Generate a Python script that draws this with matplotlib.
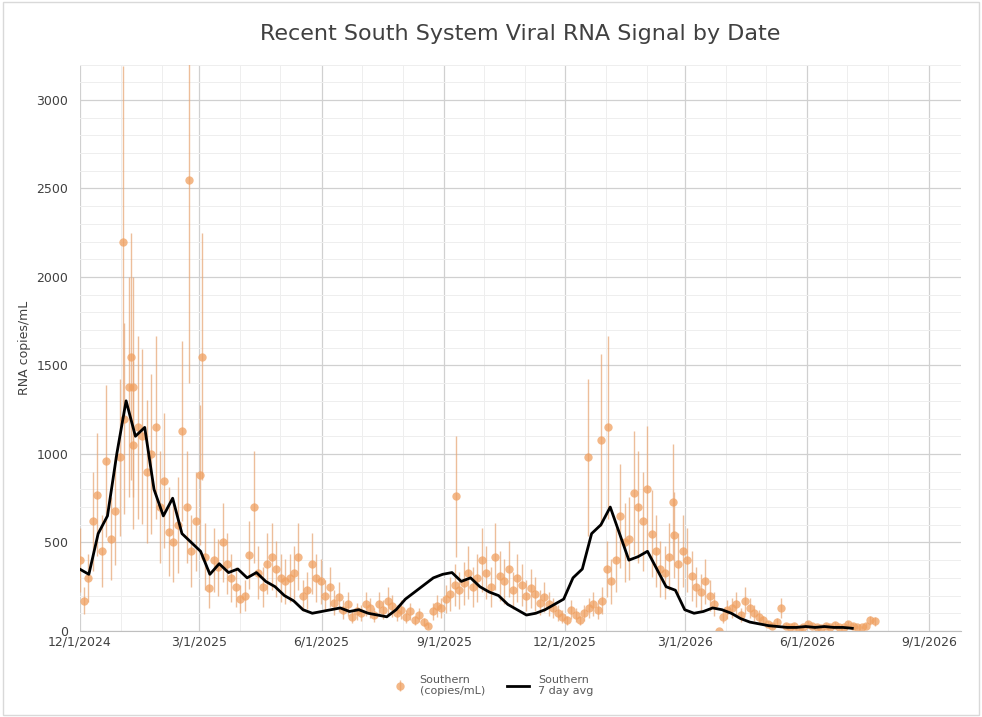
import numpy as np
import pandas as pd
import matplotlib.pyplot as plt
import matplotlib.dates as mdates

# 7-day average, weekly readings starting 12/1/2024
avg_start = "2024-12-01"
avg_vals = [350, 320, 550, 650, 1000, 1300, 1100, 1150, 800, 650, 750, 550, 500,
            450, 320, 380, 330, 350, 300, 330, 280, 250, 200, 170, 120, 100,
            110, 120, 130, 110, 120, 100, 90, 80, 120, 180, 220, 260, 300, 320,
            330, 280, 300, 250, 220, 200, 150, 120, 90, 100, 120, 150, 180, 300,
            350, 550, 600, 700, 550, 400, 420, 450, 350, 250, 230, 120, 100, 110,
            130, 120, 100, 70, 50, 40, 30, 25, 20, 20, 25, 20, 25, 20, 20, 15]

# individual samples, evenly spread from 12/1/2024 to 7/22/2026
pt_start, pt_end = "2024-12-01", "2026-07-22"
pt_vals = [400, 170, 300, 620, 770, 450, 960, 520, 680, 980, 1200, 1380, 1050, 1150,
           1100, 900, 1000, 1150, 700, 850, 560, 500, 600, 1130, 700, 450, 620, 880,
           420, 240, 400, 360, 500, 380, 300, 250, 180, 200, 430, 700, 330, 250, 380,
           420, 350, 300, 280, 300, 330, 420, 200, 230, 380, 300, 280, 200, 250, 160,
           190, 120, 150, 80, 110, 100, 150, 130, 90, 150, 120, 170, 140, 100, 120, 80,
           110, 60, 90, 50, 30, 110, 140, 130, 180, 210, 260, 230, 270, 330, 250, 300,
           400, 330, 250, 420, 310, 280, 350, 230, 300, 260, 200, 240, 210, 160, 190, 150,
           130, 100, 80, 60, 120, 90, 60, 100, 130, 150, 120, 170, 350, 280, 400, 650,
           500, 520, 780, 700, 620, 800, 550, 450, 350, 330, 420, 540, 380, 450, 400, 310,
           250, 220, 280, 200, 150, 0, 80, 120, 130, 150, 90, 170, 130, 100, 80, 60, 40,
           30, 50, 130, 30, 20, 30, 10, 20, 40, 30, 20, 15, 30, 20, 35, 25, 20, 40, 30,
           25, 20, 30, 60, 55]
# notable high samples
out_dates = ["2025-01-03", "2025-01-09", "2025-01-10", "2025-02-21", "2025-03-03",
             "2025-09-10", "2025-12-28", "2026-01-02", "2025-12-18", "2026-02-20"]
out_vals = [2200, 1550, 1380, 2550, 1550, 760, 1080, 1150, 980, 730]
err_frac = 0.45

avg_dates = pd.date_range(avg_start, periods=len(avg_vals), freq="7D")
pt_dates = pd.date_range(pt_start, pt_end, periods=len(pt_vals))
pt_dates = list(pt_dates) + list(pd.to_datetime(out_dates))
pts = np.array(pt_vals + out_vals, dtype=float)

orange = "#f0a060"
fig = plt.figure(figsize=(9.82, 7.17), dpi=100)
ax = fig.add_axes([0.081, 0.12, 0.898, 0.79])
h1 = ax.errorbar(pt_dates, pts, yerr=pts * err_frac, fmt="o", color=orange, ms=6, alpha=0.75,
                 ecolor="#e8a878", elinewidth=1, mec="none", zorder=2)
h2, = ax.plot(avg_dates, avg_vals, color="black", lw=2, zorder=3)

ax.set_ylim(0, 3200)
ax.set_xlim(pd.Timestamp("2024-12-01"), pd.Timestamp("2026-09-25"))
ax.set_yticks(range(0, 3001, 500))
ax.set_yticks(range(0, 3201, 100), minor=True)
ax.xaxis.set_major_locator(mdates.MonthLocator(bymonth=[3, 6, 9, 12], bymonthday=1))
ax.xaxis.set_minor_locator(mdates.MonthLocator())
ax.xaxis.set_major_formatter(plt.FuncFormatter(
    lambda v, p: f"{mdates.num2date(v).month}/1/{mdates.num2date(v).year}"))
ax.grid(which="major", color="#d0d0d0", lw=0.9)
ax.grid(which="minor", color="#eeeeee", lw=0.7)
for s in ["top", "right", "left"]:
    ax.spines[s].set_visible(False)
ax.spines["bottom"].set_color("#bfbfbf")
ax.tick_params(which="both", length=0, labelsize=9, colors="#404040")
ax.tick_params(axis="y", pad=8)
ax.set_ylabel("RNA copies/mL", fontsize=9, color="#404040")
ax.set_title("Recent South System Viral RNA Signal by Date", fontsize=16, color="#404040", pad=18)
fig.legend([h1, h2], ["Southern\n(copies/mL)", "Southern\n7 day avg"], loc="lower center",
           ncol=2, frameon=False, fontsize=8, bbox_to_anchor=(0.5, 0.015), labelcolor="#595959")
fig.patches.append(plt.Rectangle((0.003, 0.003), 0.994, 0.994, transform=fig.transFigure,
                                 fill=False, ec="#d9d9d9", lw=1))
fig.savefig("out.png")
